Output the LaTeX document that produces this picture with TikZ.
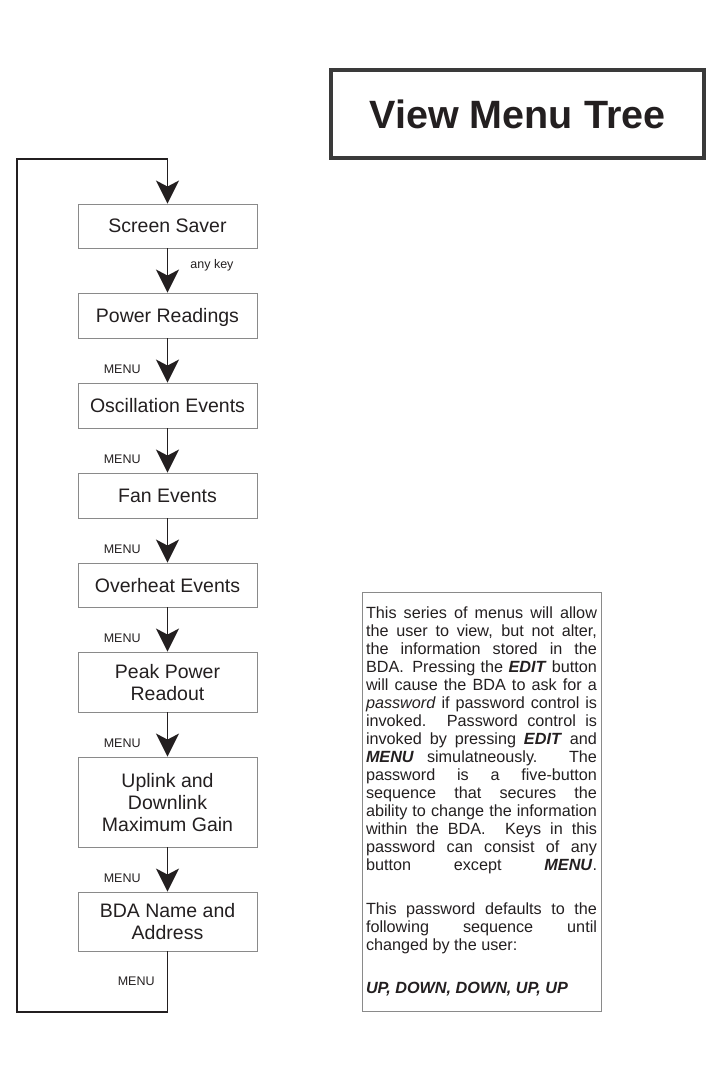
\documentclass[tikz,border=0pt]{standalone}
\usepackage{fontspec}
\setmainfont{Liberation Sans}
\usetikzlibrary{arrows.meta}
\definecolor{ink}{HTML}{231F20}
\definecolor{boxline}{HTML}{8A8A8A}
\definecolor{titleline}{HTML}{3A3A3A}
\tolerance=10000
\hyphenpenalty=10000
\exhyphenpenalty=10000
\setlength{\parindent}{0pt}

\begin{document}
\begin{tikzpicture}[x=1pt,y=-1pt,>={Stealth[length=23pt,width=23pt,inset=6pt]},
    menubox/.style={draw=boxline,line width=0.9pt,minimum width=179pt,align=center,text depth=0pt,
        text=ink,font=\fontsize{19.5pt}{22pt}\selectfont},
    keylbl/.style={inner sep=0pt,text=ink,font=\fontsize{12.5pt}{14pt}\selectfont},
    flow/.style={->,line width=1.8pt,draw=ink}]
    \useasboundingbox (0,0) rectangle (715,1088);
    % title
    \node[draw=titleline,line width=4pt,minimum width=373pt,minimum height=88pt,text depth=0pt,
        text=ink,font=\fontsize{39.5pt}{44pt}\selectfont\bfseries] (title) at (517.5,114) {View Menu Tree};
    % menu boxes
    \node[menubox,minimum height=44pt] (saver) at (167.5,226) {Screen Saver};
    \node[menubox,minimum height=45pt] (power) at (167.5,315.5) {Power Readings};
    \node[menubox,minimum height=45pt] (osc) at (167.5,405.5) {Oscillation Events};
    \node[menubox,minimum height=45pt] (fan) at (167.5,495.5) {Fan Events};
    \node[menubox,minimum height=44pt] (heat) at (167.5,585) {Overheat Events};
    \node[menubox,minimum height=60pt] (peak) at (167.5,682) {Peak Power\\Readout};
    \node[menubox,minimum height=90pt] (gain) at (167.5,802) {Uplink and\\Downlink\\Maximum Gain};
    \node[menubox,minimum height=59pt] (bda) at (167.5,921.5) {BDA Name and\\Address};
    % arrows
    \draw[flow] (saver) -- (power) node[pos=0.38,right=22pt,keylbl] {any key};
    \foreach \a/\b in {power/osc,osc/fan,fan/heat,heat/peak,peak/gain,gain/bda}{
        \draw[flow] (\a) -- (\b) node[pos=0.69,left=26pt,keylbl] {MENU};
    }
    \coordinate (loopbot) at (17,1012);
    \coordinate (looptop) at (17,159);
    \draw[flow] (bda) -- (bda.south |- loopbot) node[midway,left=12pt,keylbl] {MENU}
        -- (loopbot) -- (looptop) -- (looptop -| saver.north) -- (saver);
    % note
    \node[draw=boxline,line width=0.9pt,text width=231pt,inner xsep=4pt,minimum height=419pt,
        align=justify,text=ink,font=\fontsize{16.2pt}{18pt}\selectfont] (note) at (481.5,801.5) {%
        This series of menus will allow\linebreak
        the user to view, but not alter,\linebreak
        the information stored in the\linebreak
        BDA\@. Pressing the \textbf{\textit{EDIT}} button\linebreak
        will cause the BDA to ask for a\linebreak
        \textit{password} if password control is\linebreak
        invoked. Password control is\linebreak
        invoked by pressing \textbf{\textit{EDIT}} and\linebreak
        \textbf{\textit{MENU}} simulatneously. The\linebreak
        password is a five-button\linebreak
        sequence that secures the\linebreak
        ability to change the information\linebreak
        within the BDA\@. Keys in this\linebreak
        password can consist of any\linebreak
        button except \textbf{\textit{MENU}}.{\parfillskip=0pt\par}
        \vspace{26pt}
        This password defaults to the\linebreak
        following sequence until\linebreak
        changed by the user:\par
        \vspace{24.5pt}
        \textbf{\textit{UP, DOWN, DOWN, UP, UP}}};
\end{tikzpicture}
\end{document}
